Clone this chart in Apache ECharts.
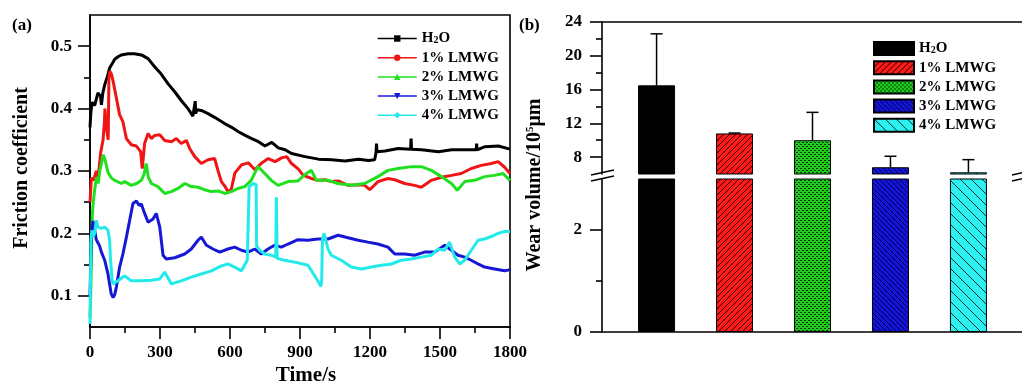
<!DOCTYPE html>
<html><head><meta charset="utf-8">
<script src="https://cdn.jsdelivr.net/npm/echarts@6/dist/echarts.min.js"></script>
<style>html,body{margin:0;padding:0;background:#fff}#c{width:1022px;height:383px}</style>
</head><body><div id="c"></div>
<script>
// ---------- Panel (a): friction coefficient vs time ----------
const lineNames = ['H2O', '1% LMWG', '2% LMWG', '3% LMWG', '4% LMWG'];
const h2o = [[0,0.37],[3,0.39],[8,0.41],[20,0.405],[34,0.425],[45,0.42],[49,0.406],[55,0.425],[63,0.438],[75,0.452],[84,0.465],[95,0.472],[106,0.479],[120,0.483],[134,0.486],[163,0.488],[190,0.488],[220,0.486],[249,0.48],[277,0.467],[306,0.455],[334,0.44],[363,0.427],[391,0.413],[420,0.4],[441,0.388],[447,0.386],[451,0.412],[453,0.392],[458,0.398],[477,0.397],[506,0.392],[534,0.386],[577,0.376],[607,0.37],[636,0.363],[665,0.357],[693,0.352],[722,0.347],[750,0.34],[779,0.346],[807,0.337],[836,0.334],[864,0.328],[921,0.323],[979,0.319],[1036,0.318],[1093,0.316],[1150,0.319],[1193,0.317],[1220,0.318],[1226,0.33],[1228,0.344],[1230,0.331],[1264,0.332],[1321,0.336],[1374,0.335],[1376,0.352],[1378,0.335],[1421,0.334],[1493,0.331],[1550,0.334],[1607,0.334],[1655,0.334],[1657,0.344],[1659,0.334],[1693,0.339],[1750,0.34],[1800,0.335]];
const lmwg1 = [[0,0.25],[3,0.27],[6,0.289],[15,0.285],[27,0.30],[35,0.29],[46,0.33],[56,0.35],[62,0.38],[64,0.40],[70,0.37],[78,0.35],[81,0.45],[85,0.46],[92,0.455],[99,0.444],[113,0.417],[127,0.39],[141,0.379],[156,0.352],[177,0.342],[199,0.34],[217,0.331],[224,0.304],[234,0.344],[249,0.36],[263,0.352],[277,0.357],[299,0.358],[320,0.349],[349,0.347],[370,0.352],[391,0.344],[413,0.349],[427,0.336],[449,0.323],[477,0.312],[506,0.318],[534,0.32],[549,0.30],[563,0.283],[579,0.275],[591,0.267],[605,0.27],[621,0.297],[650,0.31],[679,0.313],[707,0.302],[736,0.313],[764,0.32],[793,0.315],[821,0.321],[843,0.323],[864,0.312],[893,0.303],[914,0.293],[950,0.288],[977,0.285],[1007,0.286],[1034,0.283],[1064,0.284],[1106,0.277],[1150,0.278],[1177,0.277],[1199,0.27],[1234,0.283],[1277,0.288],[1306,0.286],[1349,0.28],[1391,0.277],[1420,0.274],[1463,0.285],[1506,0.29],[1549,0.293],[1591,0.296],[1634,0.304],[1677,0.309],[1720,0.312],[1749,0.315],[1777,0.306],[1800,0.296]];
const lmwg2 = [[0,0.065],[3,0.10],[6,0.16],[10,0.23],[14,0.25],[20,0.27],[28,0.29],[35,0.28],[42,0.30],[49,0.312],[56,0.326],[63,0.32],[77,0.298],[91,0.289],[106,0.285],[134,0.28],[149,0.283],[177,0.277],[200,0.28],[220,0.285],[232,0.295],[241,0.312],[250,0.29],[263,0.28],[291,0.275],[320,0.264],[349,0.267],[377,0.272],[406,0.28],[434,0.275],[463,0.274],[491,0.27],[520,0.267],[549,0.268],[577,0.264],[606,0.267],[634,0.272],[663,0.275],[691,0.285],[720,0.307],[749,0.296],[777,0.285],[806,0.277],[849,0.283],[891,0.284],[927,0.296],[949,0.301],[970,0.285],[1020,0.285],[1063,0.28],[1120,0.277],[1177,0.28],[1234,0.291],[1277,0.301],[1320,0.304],[1377,0.307],[1420,0.307],[1463,0.301],[1506,0.291],[1549,0.28],[1574,0.269],[1606,0.283],[1649,0.285],[1691,0.291],[1734,0.293],[1770,0.296],[1800,0.285]];
const lmwg3 = [[0,0.10],[3,0.15],[6,0.20],[13,0.22],[20,0.205],[27,0.19],[34,0.185],[41,0.18],[49,0.17],[63,0.157],[77,0.135],[91,0.103],[99,0.097],[106,0.102],[113,0.114],[127,0.146],[141,0.167],[156,0.194],[170,0.221],[184,0.248],[199,0.252],[210,0.245],[220,0.247],[234,0.232],[249,0.218],[270,0.223],[284,0.232],[299,0.21],[313,0.165],[327,0.159],[363,0.161],[406,0.167],[434,0.175],[463,0.189],[477,0.194],[499,0.181],[527,0.175],[556,0.17],[591,0.175],[620,0.178],[649,0.173],[677,0.17],[706,0.175],[734,0.167],[763,0.175],[791,0.181],[820,0.178],[849,0.183],[891,0.19],[934,0.189],[977,0.191],[1020,0.191],[1063,0.197],[1106,0.193],[1149,0.189],[1191,0.186],[1234,0.183],[1277,0.178],[1306,0.167],[1349,0.167],[1391,0.165],[1434,0.17],[1477,0.17],[1520,0.181],[1549,0.173],[1577,0.165],[1606,0.162],[1634,0.157],[1663,0.151],[1691,0.146],[1734,0.143],[1777,0.14],[1800,0.142]];
const lmwg4 = [[0,0.055],[2,0.12],[4,0.19],[8,0.205],[14,0.195],[20,0.20],[27,0.221],[34,0.21],[49,0.208],[63,0.21],[77,0.205],[84,0.189],[88,0.157],[95,0.125],[99,0.119],[120,0.124],[149,0.132],[177,0.124],[220,0.124],[263,0.125],[299,0.127],[320,0.138],[349,0.119],[391,0.124],[434,0.13],[477,0.135],[520,0.14],[563,0.148],[591,0.151],[620,0.146],[649,0.14],[674,0.157],[680,0.16],[682,0.275],[699,0.28],[712,0.278],[714,0.18],[727,0.173],[749,0.167],[777,0.165],[796,0.162],[799,0.258],[802,0.16],[806,0.159],[834,0.157],[877,0.154],[934,0.149],[963,0.132],[984,0.119],[990,0.115],[993,0.125],[996,0.19],[1003,0.2],[1010,0.19],[1020,0.175],[1034,0.165],[1077,0.157],[1120,0.146],[1163,0.143],[1206,0.146],[1249,0.149],[1291,0.151],[1334,0.157],[1377,0.159],[1420,0.162],[1463,0.165],[1491,0.175],[1520,0.173],[1541,0.186],[1563,0.162],[1584,0.151],[1606,0.157],[1634,0.173],[1663,0.189],[1691,0.191],[1720,0.195],[1749,0.2],[1777,0.203],[1800,0.203]];
const frictionTicks = [0.1, 0.2, 0.3, 0.4, 0.5];
const frictionMinor = [0.15, 0.25, 0.35, 0.45];

// ---------- Panel (b): wear volume ----------
const wearCats = ['H2O', '1% LMWG', '2% LMWG', '3% LMWG', '4% LMWG'];
const wearX = [1, 2, 3, 4, 5];
const wearMean = [16.5, 10.8, 10.0, 6.8, 6.2];
const wearUpper = [22.6, 10.85, 13.3, 8.1, 7.7];
const wearTicksUpper = [8, 12, 16, 20, 24];
const wearMinorUpper = [10, 14, 18, 22];
const wearTicksLower = [0, 2];
const wearMinorLower = [1];

// ---------- styles ----------
const FF = "'Liberation Serif','Times New Roman',serif";
const lineColors = ['#000000', '#f01515', '#1fe01f', '#1717d6', '#22eaea'];
const lineSymbols = ['rect', 'circle', 'triangle', 'triangle', 'diamond'];
const lineRot = [0, 0, 0, 180, 0];

function hatch(bg, dir, step, lw, lc) {
  const c = document.createElement('canvas'); c.width = step; c.height = step;
  const g = c.getContext('2d'); g.fillStyle = bg; g.fillRect(0, 0, step, step);
  g.strokeStyle = lc; g.lineWidth = lw; g.beginPath();
  if (dir === '/') {
    g.moveTo(-1, step + 1); g.lineTo(step + 1, -1);
    g.moveTo(-1, 1); g.lineTo(1, -1);
    g.moveTo(step - 1, step + 1); g.lineTo(step + 1, step - 1);
  } else {
    g.moveTo(-1, -1); g.lineTo(step + 1, step + 1);
    g.moveTo(step - 1, -1); g.lineTo(step + 1, 1);
    g.moveTo(-1, step - 1); g.lineTo(1, step + 1);
  }
  g.stroke();
  return { image: c, repeat: 'repeat' };
}
function dots(bg, dc) {
  const c = document.createElement('canvas'); c.width = 4; c.height = 4;
  const g = c.getContext('2d'); g.fillStyle = bg; g.fillRect(0, 0, 4, 4);
  g.fillStyle = dc; g.fillRect(0, 0, 1, 1); g.fillRect(2, 2, 1, 1);
  g.fillRect(1, 0, 1, 1); g.fillRect(3, 2, 1, 1);
  return { image: c, repeat: 'repeat' };
}
const barFills = [
  '#000000',
  hatch('#ff1a1a', '/', 6, 1, '#200000'),
  dots('#1fcc1f', '#053805'),
  hatch('#1515d8', '\\', 5, 1, '#000050'),
  hatch('#2df0f0', '\\', 11, 1, '#003030')
];

const tickLine = { color: '#000', width: 1.6 };
const labelFont = { fontFamily: FF, fontWeight: 'bold', fontSize: 17, color: '#000' };
const rich = {
  n: { fontFamily: FF, fontWeight: 'bold', fontSize: 15, lineHeight: 14, color: '#000' },
  s: { fontFamily: FF, fontWeight: 'bold', fontSize: 10, lineHeight: 2, verticalAlign: 'bottom', color: '#000' }
};
function legendText(name) {
  const label = name.replace(/^bar:/, '');
  return label === 'H2O' ? '{n|H}{s|2}{n|O}' : '{n|' + label + '}';
}

const gridA = { left: 90, top: 15, width: 420, height: 312, outerBoundsMode: 'none' };
const gridBU = { left: 602, top: 22, width: 421, height: 152, outerBoundsMode: 'none' };
const gridBL = { left: 602, top: 179, width: 421, height: 153, outerBoundsMode: 'none' };

function majorY(gi, min, max, ticks, margin) {
  return {
    gridIndex: gi, type: 'value', min: min, max: max,
    axisLine: { show: true, onZero: false, lineStyle: tickLine },
    axisTick: { show: true, length: 12, customValues: ticks, lineStyle: tickLine },
    axisLabel: Object.assign({ margin: margin, customValues: ticks, formatter: v => String(v) }, labelFont),
    splitLine: { show: false }
  };
}
function minorY(gi, min, max, ticks) {
  return {
    gridIndex: gi, type: 'value', min: min, max: max,
    axisLine: { show: false },
    axisTick: { show: true, length: 6, customValues: ticks, lineStyle: tickLine },
    axisLabel: { show: false }, splitLine: { show: false }
  };
}
function plainX(gi, min, max, pos, showLine) {
  return {
    gridIndex: gi, type: 'value', min: min, max: max, position: pos, show: showLine,
    axisLine: { show: true, onZero: false, lineStyle: tickLine },
    axisTick: { show: false }, axisLabel: { show: false }, splitLine: { show: false }
  };
}

const series = [];
[h2o, lmwg1, lmwg2, lmwg3, lmwg4].forEach((d, i) => {
  series.push({
    type: 'line', name: lineNames[i], xAxisIndex: 0, yAxisIndex: 0, data: d,
    showSymbol: false, symbol: lineSymbols[i], symbolRotate: lineRot[i], symbolSize: 5,
    lineStyle: { color: lineColors[i], width: 3 }, itemStyle: { color: lineColors[i] },
    z: 2 + i, animation: false
  });
});
[[1, 1], [2, 2]].forEach(([xi, yi]) => {
  wearCats.forEach((c, i) => {
    series.push({
      type: 'bar', name: 'bar:' + c, xAxisIndex: xi, yAxisIndex: yi,
      data: [[wearX[i], wearMean[i]]], barWidth: 37, barGap: '-100%', clip: true,
      itemStyle: { color: barFills[i], borderColor: '#000', borderWidth: 1 },
      z: 2, animation: false
    });
  });
});
series.push({
  type: 'custom', xAxisIndex: 1, yAxisIndex: 1, clip: true, z: 5,
  data: wearX.map((x, i) => [x, wearMean[i], wearUpper[i]]),
  encode: { x: 0, y: [1, 2] },
  renderItem: function (params, api) {
    const x = api.value(0), m = api.value(1), u = api.value(2);
    const p0 = api.coord([x, m]), p1 = api.coord([x, u]);
    const st = { stroke: '#000', lineWidth: 1.5 };
    return { type: 'group', children: [
      { type: 'line', shape: { x1: p0[0], y1: p0[1], x2: p1[0], y2: p1[1] }, style: st },
      { type: 'line', shape: { x1: p1[0] - 6, y1: p1[1], x2: p1[0] + 6, y2: p1[1] }, style: st }
    ] };
  },
  animation: false
});

const titleFont = { fontFamily: FF, fontWeight: 'bold', fontSize: 20, fill: '#000' };
const option = {
  backgroundColor: '#fff',
  animation: false,
  grid: [
    Object.assign({ show: true, borderColor: '#000', borderWidth: 1.6 }, gridA),
    gridBU, gridBL,
    Object.assign({}, gridA), Object.assign({}, gridBU), Object.assign({}, gridBL)
  ],
  xAxis: [
    {
      gridIndex: 0, type: 'value', min: 0, max: 1800, interval: 300,
      axisLine: { show: true, onZero: false, lineStyle: tickLine },
      axisTick: { show: true, length: 12, lineStyle: tickLine },
      minorTick: { show: true, splitNumber: 2, length: 6, lineStyle: tickLine },
      axisLabel: Object.assign({ margin: 17, formatter: v => String(v) }, labelFont),
      splitLine: { show: false }, minorSplitLine: { show: false }
    },
    plainX(1, 0.3, 5.7, 'top', true),
    plainX(2, 0.3, 5.7, 'bottom', true),
    plainX(3, 0, 1800, 'bottom', false),
    plainX(4, 0.3, 5.7, 'bottom', false),
    plainX(5, 0.3, 5.7, 'bottom', false)
  ],
  yAxis: [
    majorY(0, 0.05, 0.55, frictionTicks, 18),
    majorY(1, 6, 24, wearTicksUpper, 20),
    majorY(2, 0, 3, wearTicksLower, 20),
    minorY(3, 0.05, 0.55, frictionMinor),
    minorY(4, 6, 24, wearMinorUpper),
    minorY(5, 0, 3, wearMinorLower)
  ],
  legend: [
    {
      data: lineNames, orient: 'vertical', left: 377, top: 31, padding: 0,
      itemGap: 4.2, itemWidth: 39, itemHeight: 8, selectedMode: false,
      lineStyle: { width: 1.5 }, formatter: legendText,
      textStyle: { fontFamily: FF, fontWeight: 'bold', fontSize: 15, lineHeight: 14, color: '#000', rich: rich }
    },
    {
      data: wearCats.map(c => 'bar:' + c), orient: 'vertical', left: 873, top: 41, padding: 0,
      itemGap: 4.2, itemWidth: 40, itemHeight: 13, icon: 'rect', selectedMode: false,
      formatter: legendText,
      textStyle: { fontFamily: FF, fontWeight: 'bold', fontSize: 15, lineHeight: 14, color: '#000', rich: rich }
    }
  ],
  graphic: [
    { type: 'text', x: 12, y: 26, z: 10, style: Object.assign({ text: '(a)', align: 'left', verticalAlign: 'middle', textAlign: 'left', textVerticalAlign: 'middle' }, titleFont, { fontSize: 17 }) },
    { type: 'text', x: 519, y: 26, z: 10, style: Object.assign({ text: '(b)', align: 'left', verticalAlign: 'middle', textAlign: 'left', textVerticalAlign: 'middle' }, titleFont, { fontSize: 17 }) },
    { type: 'text', x: 22, y: 168, rotation: Math.PI / 2, z: 10, style: Object.assign({ text: 'Friction coefficient', align: 'center', verticalAlign: 'middle', textAlign: 'center', textVerticalAlign: 'middle' }, titleFont) },
    { type: 'text', x: 306, y: 376, z: 10, style: Object.assign({ text: 'Time/s', align: 'center', verticalAlign: 'middle', textAlign: 'center', textVerticalAlign: 'middle' }, titleFont, { fontSize: 21 }) },
    { type: 'text', x: 535, y: 185, rotation: Math.PI / 2, z: 10, style: {
        text: '{n|Wear volume/10}{p|5}{n|μm}', align: 'center', verticalAlign: 'middle', textAlign: 'center', textVerticalAlign: 'middle',
        rich: {
          n: { fontFamily: FF, fontWeight: 'bold', fontSize: 20, lineHeight: 20, fill: '#000', color: '#000' },
          p: { fontFamily: FF, fontWeight: 'bold', fontSize: 11, lineHeight: 9, verticalAlign: 'top', fill: '#000', color: '#000' }
        } } },
    { type: 'line', z: 10, shape: { x1: 591, y1: 175, x2: 614, y2: 170 }, style: { stroke: '#000', lineWidth: 1.4 } },
    { type: 'line', z: 10, shape: { x1: 591, y1: 181, x2: 614, y2: 176 }, style: { stroke: '#000', lineWidth: 1.4 } },
    { type: 'line', z: 10, shape: { x1: 1012, y1: 175, x2: 1035, y2: 170 }, style: { stroke: '#000', lineWidth: 1.4 } },
    { type: 'line', z: 10, shape: { x1: 1012, y1: 181, x2: 1035, y2: 176 }, style: { stroke: '#000', lineWidth: 1.4 } }
  ],
  series: series
};
const chart = echarts.init(document.getElementById('c'), null, { renderer: 'canvas' });
chart.setOption(option);
</script>
</body></html>
